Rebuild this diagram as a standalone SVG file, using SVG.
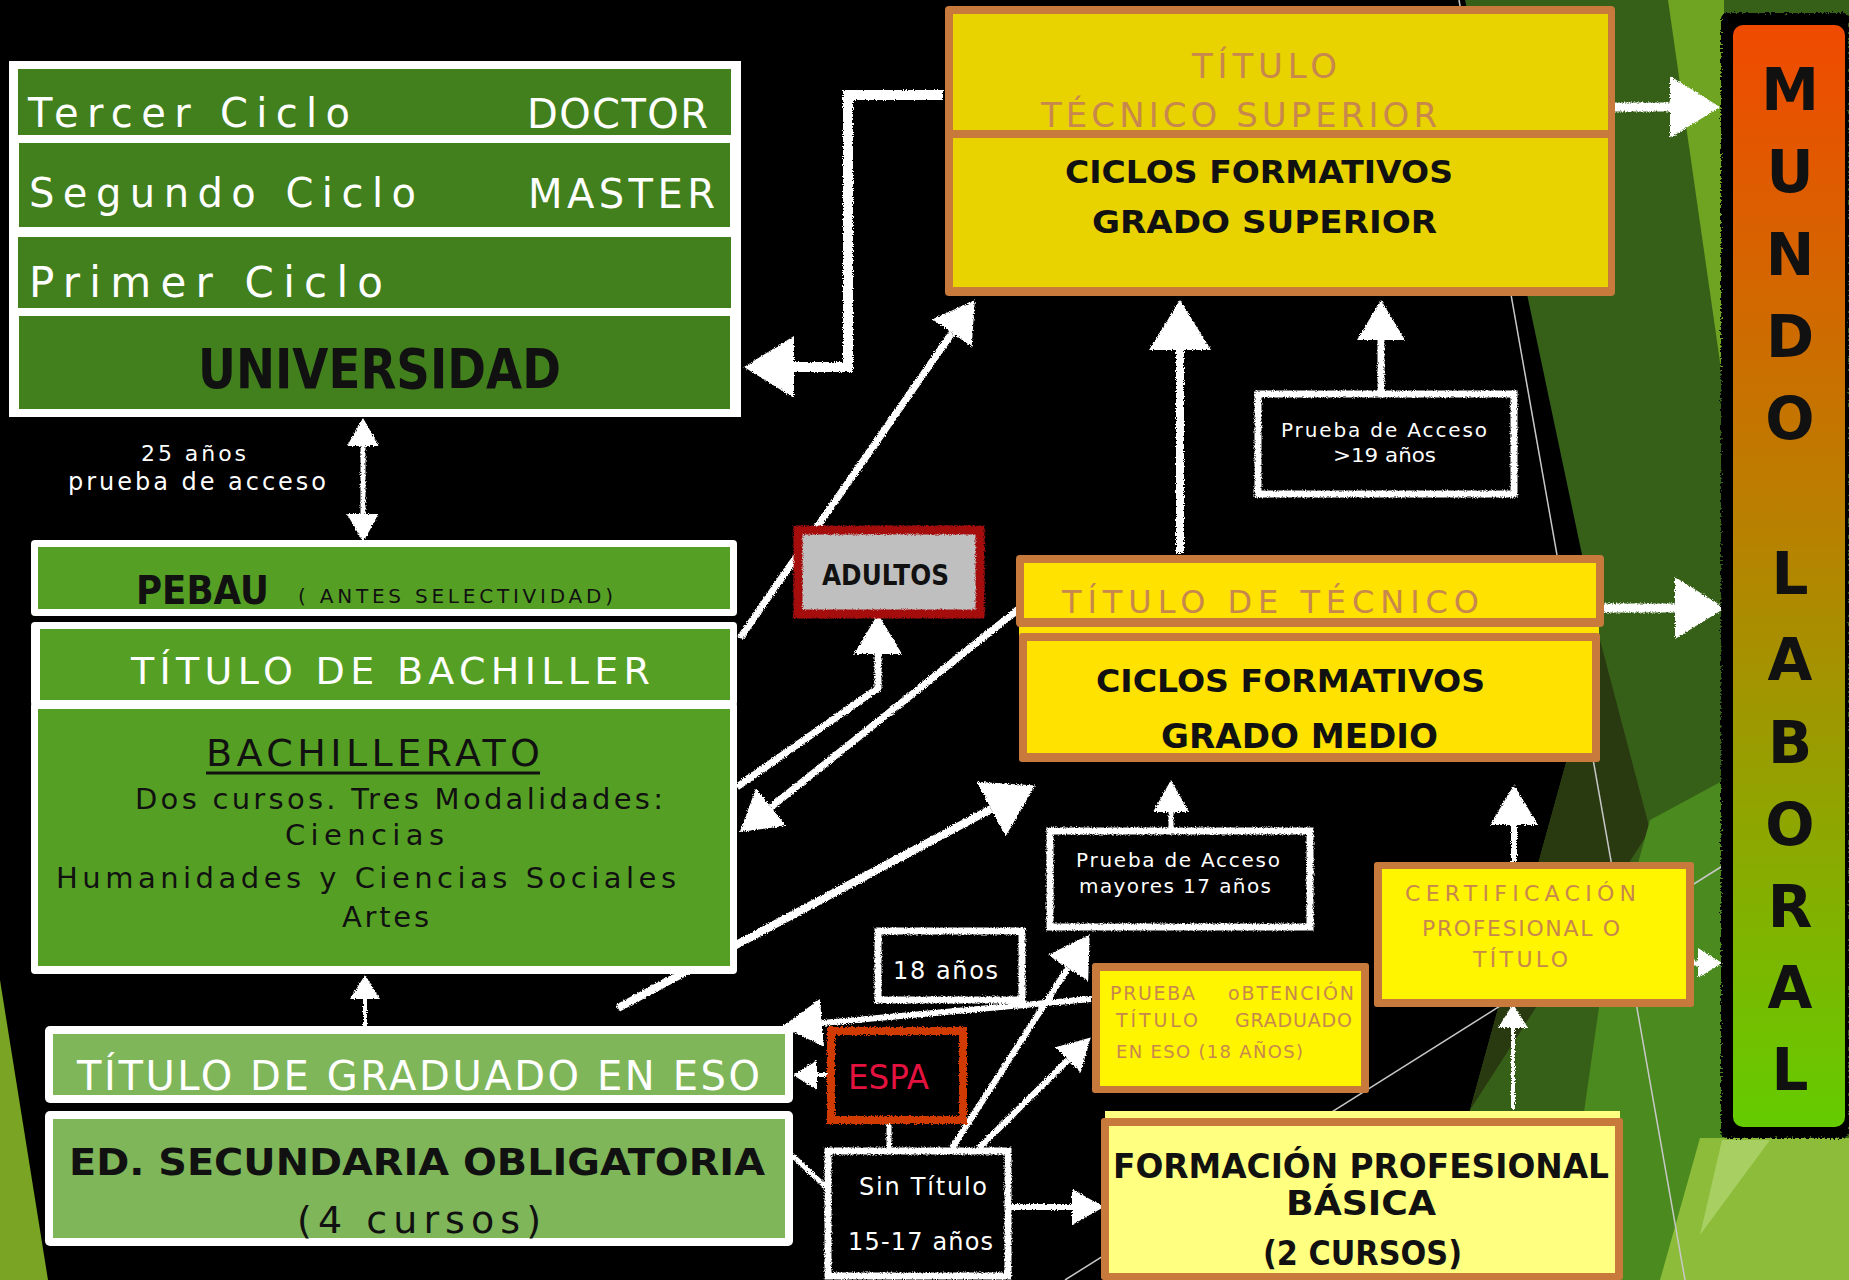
<svg xmlns="http://www.w3.org/2000/svg" width="1849" height="1280" viewBox="0 0 1849 1280">
<style>
.f{font-family:"DejaVu Sans","Liberation Sans",sans-serif}
.b{font-weight:bold}
.w{fill:#ffffff}
.k{fill:#111111}
.tan{fill:#c8874d}
.frame{fill:#ffffff}
.ug{fill:#427f1d}
.bg2{fill:#55a024}
.eg{fill:#7fb65a}
.ob{fill:#c87a3c}
.sk{fill:#000000;stroke:#ffffff;stroke-width:7}
.ln{stroke:#ffffff;fill:none;stroke-linejoin:miter}
.deco{stroke:#c8c8c8;stroke-width:1.5;fill:none}
</style>
<defs>
<linearGradient id="mundo" x1="0" y1="0" x2="0" y2="1">
<stop offset="0" stop-color="#f04a00"/>
<stop offset="0.45" stop-color="#b98000"/>
<stop offset="1" stop-color="#64cc00"/>
</linearGradient>
<filter id="chalk" x="-5%" y="-5%" width="110%" height="110%">
<feTurbulence type="fractalNoise" baseFrequency="0.9" numOctaves="2" seed="3" result="n"/>
<feDisplacementMap in="SourceGraphic" in2="n" scale="4" xChannelSelector="R" yChannelSelector="G"/>
</filter>
<filter id="rough" x="-5%" y="-5%" width="110%" height="110%">
<feTurbulence type="fractalNoise" baseFrequency="0.5" numOctaves="2" seed="7" result="n"/>
<feDisplacementMap in="SourceGraphic" in2="n" scale="7" xChannelSelector="R" yChannelSelector="G"/>
</filter>
<marker id="mB" markerUnits="userSpaceOnUse" markerWidth="50" markerHeight="62" viewBox="0 0 50 62" refX="0" refY="31" orient="auto"><path d="M0,0 L50,31 L0,62 z" fill="#fff"/></marker>
<marker id="mM" markerUnits="userSpaceOnUse" markerWidth="40" markerHeight="48" viewBox="0 0 40 48" refX="0" refY="24" orient="auto"><path d="M0,0 L40,24 L0,48 z" fill="#fff"/></marker>
<marker id="mS" markerUnits="userSpaceOnUse" markerWidth="32" markerHeight="36" viewBox="0 0 32 36" refX="0" refY="18" orient="auto"><path d="M0,0 L32,18 L0,36 z" fill="#fff"/></marker>
<marker id="mSr" markerUnits="userSpaceOnUse" markerWidth="28" markerHeight="32" viewBox="0 0 28 32" refX="0" refY="16" orient="auto-start-reverse"><path d="M0,0 L28,16 L0,32 z" fill="#fff"/></marker>
<marker id="mX" markerUnits="userSpaceOnUse" markerWidth="24" markerHeight="30" viewBox="0 0 24 30" refX="0" refY="15" orient="auto"><path d="M0,0 L24,15 L0,30 z" fill="#fff"/></marker>
</defs>

<g id="background">
<rect width="1849" height="1280" fill="#000"/>
<polygon points="1465,0 1849,0 1849,1280 1420,1280 1470,1110 1600,640" fill="#365f18"/>
<polygon points="1668,0 1724,0 1724,390" fill="#6fa322"/>
<polygon points="1600,640 1650,830 1470,1110" fill="#2a3a10"/>
<polygon points="1650,820 1724,780 1724,1280 1560,1280 1600,1000" fill="#4a8a1e"/>
<polygon points="1700,1138 1849,1138 1849,1280 1660,1280" fill="#8cbc3a"/>
<polygon points="1722,1140 1770,1140 1700,1235" fill="#a8cf62"/>
<polygon points="0,980 48,1280 0,1280" fill="#7aa424"/>
<line class="deco" x1="1459" y1="0" x2="1685" y2="1280"/>
<line class="deco" x1="1065" y1="1280" x2="1724" y2="865"/>
</g>

<g id="connectors">
<g filter="url(#chalk)">
<polyline class="ln" stroke-width="10" points="943,95 848,95 848,367 794,367" marker-end="url(#mB)"/>
<line class="ln" stroke-width="7" x1="740" y1="638" x2="952" y2="333" marker-end="url(#mM)"/>
<polyline class="ln" stroke-width="7" points="737,787 878,688 878,654" marker-end="url(#mM)"/>
<line class="ln" stroke-width="7" x1="1020" y1="608" x2="771" y2="807" marker-end="url(#mM)"/>
<line class="ln" stroke-width="8" x1="618" y1="1008" x2="991" y2="809" marker-end="url(#mB)"/>
<line class="ln" stroke-width="8" x1="1180" y1="553" x2="1180" y2="350" marker-end="url(#mB)"/>
<line class="ln" stroke-width="7" x1="1381" y1="391" x2="1381" y2="340" marker-end="url(#mM)"/>
<line class="ln" stroke-width="9" x1="1610" y1="107" x2="1670" y2="107" marker-end="url(#mB)"/>
<line class="ln" stroke-width="9" x1="1602" y1="608" x2="1675" y2="608" marker-end="url(#mB)"/>
<line class="ln" stroke-width="5" x1="1690" y1="963" x2="1698" y2="963" marker-end="url(#mX)"/>
<line class="ln" stroke-width="5" x1="363" y1="446" x2="363" y2="514" marker-start="url(#mSr)" marker-end="url(#mSr)"/>
<line class="ln" stroke-width="4" x1="365" y1="1028" x2="365" y2="999" marker-end="url(#mX)"/>
<line class="ln" stroke-width="4" x1="828" y1="1075" x2="817" y2="1075" marker-end="url(#mX)"/>
<line class="ln" stroke-width="6" x1="1091" y1="999" x2="822" y2="1023" marker-end="url(#mM)"/>
<line class="ln" stroke-width="5" x1="889" y1="1123" x2="889" y2="1151"/>
<line class="ln" stroke-width="5" x1="793" y1="1156" x2="828" y2="1189"/>
<line class="ln" stroke-width="6" x1="1011" y1="1207" x2="1072" y2="1207" marker-end="url(#mS)"/>
<line class="ln" stroke-width="6" x1="952" y1="1148" x2="1068" y2="968" marker-end="url(#mM)"/>
<line class="ln" stroke-width="6" x1="979" y1="1148" x2="1068" y2="1060" marker-end="url(#mS)"/>
<line class="ln" stroke-width="5" x1="1171" y1="828" x2="1171" y2="812" marker-end="url(#mS)"/>
<line class="ln" stroke-width="6" x1="1514" y1="862" x2="1514" y2="825" marker-end="url(#mM)"/>
<line class="ln" stroke-width="4" x1="1513" y1="1110" x2="1513" y2="1028" marker-end="url(#mX)"/>
</g>
</g>

<g id="universidad">
<rect class="frame" x="9" y="61" width="732" height="356"/>
<rect class="ug" x="18" y="69" width="713" height="66"/>
<rect class="ug" x="19" y="143" width="711" height="84"/>
<rect class="ug" x="18" y="237" width="713" height="71"/>
<rect class="ug" x="19" y="316" width="711" height="93"/>
<text class="f w" x="28" y="127" font-size="40" textLength="322">Tercer Ciclo</text>
<text class="f w" x="527" y="128" font-size="40" textLength="181">DOCTOR</text>
<text class="f w" x="29" y="207" font-size="40" textLength="387">Segundo Ciclo</text>
<text class="f w" x="528" y="208" font-size="40" textLength="187">MASTER</text>
<text class="f w" x="29" y="297" font-size="42" textLength="354">Primer Ciclo</text>
<text class="f b k" x="198" y="388" font-size="55" textLength="363" lengthAdjust="spacingAndGlyphs">UNIVERSIDAD</text>
</g>

<g id="acceso-25">
<text class="f w" x="141" y="461" font-size="22" textLength="105">25 años</text>
<text class="f w" x="68" y="490" font-size="24" textLength="258">prueba de acceso</text>
</g>

<g id="pebau">
<rect class="frame" x="31" y="540" width="706" height="76" rx="4"/>
<rect class="bg2" x="38" y="547" width="692" height="62"/>
<text class="f b k" x="136" y="604" font-size="39" textLength="133" lengthAdjust="spacingAndGlyphs">PEBAU</text>
<text class="f k" x="298" y="603" font-size="20" textLength="315">( ANTES SELECTIVIDAD)</text>
</g>

<g id="titulo-bachiller">
<rect class="frame" x="31" y="622" width="706" height="84" rx="4"/>
<rect class="bg2" x="40" y="629" width="690" height="71"/>
<text class="f w" x="131" y="684" font-size="38" textLength="519">TÍTULO DE BACHILLER</text>
</g>

<g id="bachillerato">
<rect class="frame" x="31" y="702" width="706" height="272" rx="4"/>
<rect class="bg2" x="38" y="709" width="692" height="257"/>
<text class="f k" x="206" y="766" font-size="38" textLength="334">BACHILLERATO</text>
<line x1="206" y1="773" x2="540" y2="773" stroke="#111" stroke-width="3"/>
<text class="f k" x="135" y="809" font-size="29" textLength="528">Dos cursos. Tres Modalidades:</text>
<text class="f k" x="285" y="845" font-size="29" textLength="159">Ciencias</text>
<text class="f k" x="56" y="888" font-size="29" textLength="620">Humanidades y Ciencias Sociales</text>
<text class="f k" x="342" y="927" font-size="29" textLength="87">Artes</text>
</g>

<g id="titulo-eso">
<rect class="frame" x="45" y="1026" width="748" height="77" rx="5"/>
<rect class="eg" x="53" y="1034" width="732" height="61"/>
<text class="f w" x="77" y="1090" font-size="40" textLength="683">TÍTULO DE GRADUADO EN ESO</text>
</g>

<g id="eso">
<rect class="frame" x="45" y="1111" width="748" height="135" rx="5"/>
<rect class="eg" x="53" y="1119" width="732" height="119"/>
<text class="f b k" x="69" y="1175" font-size="38" textLength="696" lengthAdjust="spacingAndGlyphs">ED. SECUNDARIA OBLIGATORIA</text>
<text class="f k" x="297" y="1233" font-size="38" textLength="244">(4 cursos)</text>
</g>

<g id="tecnico-superior">
<rect class="ob" x="945" y="6" width="670" height="290" rx="4"/>
<rect x="953" y="14" width="655" height="116" fill="#e8d300"/>
<rect x="953" y="138" width="655" height="149" fill="#e8d300"/>
<text class="f tan" x="1192" y="78" font-size="34" textLength="145">TÍTULO</text>
<text class="f tan" x="1041" y="127" font-size="34" textLength="396">TÉCNICO SUPERIOR</text>
<text class="f b k" x="1065" y="183" font-size="32" textLength="388" lengthAdjust="spacingAndGlyphs">CICLOS FORMATIVOS</text>
<text class="f b k" x="1092" y="233" font-size="32" textLength="345" lengthAdjust="spacingAndGlyphs">GRADO SUPERIOR</text>
</g>

<g id="prueba-19">
<rect class="sk" x="1258" y="394" width="256" height="100" filter="url(#chalk)"/>
<text class="f w" x="1281" y="437" font-size="20" textLength="206">Prueba de Acceso</text>
<text class="f w" x="1333" y="462" font-size="20" textLength="103" lengthAdjust="spacingAndGlyphs">&gt;19 años</text>
</g>

<g id="adultos">
<rect x="798" y="530" width="182" height="84" fill="#bfbfbf" stroke="#a50f0f" stroke-width="9" filter="url(#chalk)"/>
<text class="f b k" x="822" y="585" font-size="29" textLength="127" lengthAdjust="spacingAndGlyphs">ADULTOS</text>
</g>

<g id="titulo-tecnico">
<rect x="1019" y="620" width="580" height="16" fill="#ffe200"/>
<rect class="ob" x="1016" y="555" width="588" height="72" rx="4"/>
<rect x="1024" y="563" width="572" height="55" fill="#ffe200"/>
<text class="f tan" x="1062" y="613" font-size="32" textLength="417">TÍTULO DE TÉCNICO</text>
</g>

<g id="grado-medio">
<rect class="ob" x="1019" y="633" width="581" height="129" rx="3"/>
<rect x="1027" y="641" width="565" height="112" fill="#ffe200"/>
<text class="f b k" x="1096" y="692" font-size="32" textLength="389" lengthAdjust="spacingAndGlyphs">CICLOS FORMATIVOS</text>
<text class="f b k" x="1161" y="748" font-size="33" textLength="277" lengthAdjust="spacingAndGlyphs">GRADO MEDIO</text>
</g>

<g id="prueba-17">
<rect class="sk" x="1050" y="831" width="260" height="96" filter="url(#chalk)"/>
<text class="f w" x="1076" y="867" font-size="20" textLength="204">Prueba de Acceso</text>
<text class="f w" x="1079" y="893" font-size="20" textLength="192">mayores 17 años</text>
</g>

<g id="dieciocho">
<rect class="sk" x="878" y="931" width="144" height="69" filter="url(#chalk)"/>
<text class="f w" x="893" y="979" font-size="24" textLength="105">18 años</text>
</g>

<g id="prueba-graduado">
<rect class="ob" x="1092" y="963" width="277" height="130" rx="3"/>
<rect x="1100" y="971" width="261" height="115" fill="#fff500"/>
<text class="f tan" x="1110" y="1000" font-size="19" textLength="85">PRUEBA</text>
<text class="f tan" x="1228" y="1000" font-size="19" textLength="126">oBTENCIÓN</text>
<text class="f tan" x="1116" y="1027" font-size="19" textLength="82">TÍTULO</text>
<text class="f tan" x="1235" y="1027" font-size="19" textLength="117">GRADUADO</text>
<text class="f tan" x="1116" y="1058" font-size="18" textLength="187">EN ESO (18 AÑOS)</text>
</g>

<g id="certificacion">
<rect class="ob" x="1374" y="862" width="320" height="145" rx="3"/>
<rect x="1382" y="869" width="304" height="130" fill="#fff500"/>
<text class="f tan" x="1405" y="901" font-size="22" textLength="231">CERTIFICACIÓN</text>
<text class="f tan" x="1422" y="936" font-size="22" textLength="198">PROFESIONAL O</text>
<text class="f tan" x="1473" y="967" font-size="22" textLength="95">TÍTULO</text>
</g>

<g id="fp-basica">
<rect x="1105" y="1111" width="515" height="9" fill="#ffff80"/>
<rect class="ob" x="1101" y="1118" width="522" height="162" rx="3"/>
<rect x="1109" y="1126" width="506" height="147" fill="#ffff80"/>
<text class="f b k" x="1113" y="1178" font-size="33" textLength="496" lengthAdjust="spacingAndGlyphs">FORMACIÓN PROFESIONAL</text>
<text class="f b k" x="1286" y="1215" font-size="34" textLength="150" lengthAdjust="spacingAndGlyphs">BÁSICA</text>
<text class="f b k" x="1263" y="1265" font-size="34" textLength="199" lengthAdjust="spacingAndGlyphs">(2 CURSOS)</text>
</g>

<g id="espa">
<rect x="831" y="1031" width="132" height="89" fill="#000" stroke="#d13a00" stroke-width="8" filter="url(#chalk)"/>
<text class="f" x="848" y="1089" font-size="34" fill="#e3123e" textLength="81" lengthAdjust="spacingAndGlyphs">ESPA</text>
</g>

<g id="sin-titulo">
<rect class="sk" x="828" y="1151" width="180" height="125" filter="url(#chalk)"/>
<text class="f w" x="859" y="1195" font-size="24" textLength="128">Sin Título</text>
<text class="f w" x="848" y="1250" font-size="24" textLength="145">15-17 años</text>
</g>

<g id="mundo-laboral">
<rect x="1721" y="13" width="128" height="1125" rx="6" fill="#000" filter="url(#rough)"/>
<rect x="1733" y="25" width="112" height="1102" rx="10" fill="url(#mundo)"/>
<g class="f k" font-size="58" font-weight="bold" text-anchor="middle">
<text x="1790" y="110">M</text>
<text x="1790" y="192">U</text>
<text x="1790" y="275">N</text>
<text x="1790" y="357">D</text>
<text x="1790" y="439">O</text>
<text x="1790" y="594">L</text>
<text x="1790" y="680">A</text>
<text x="1790" y="763">B</text>
<text x="1790" y="845">O</text>
<text x="1790" y="927">R</text>
<text x="1790" y="1008">A</text>
<text x="1790" y="1090">L</text>
</g>
</g>
</svg>
